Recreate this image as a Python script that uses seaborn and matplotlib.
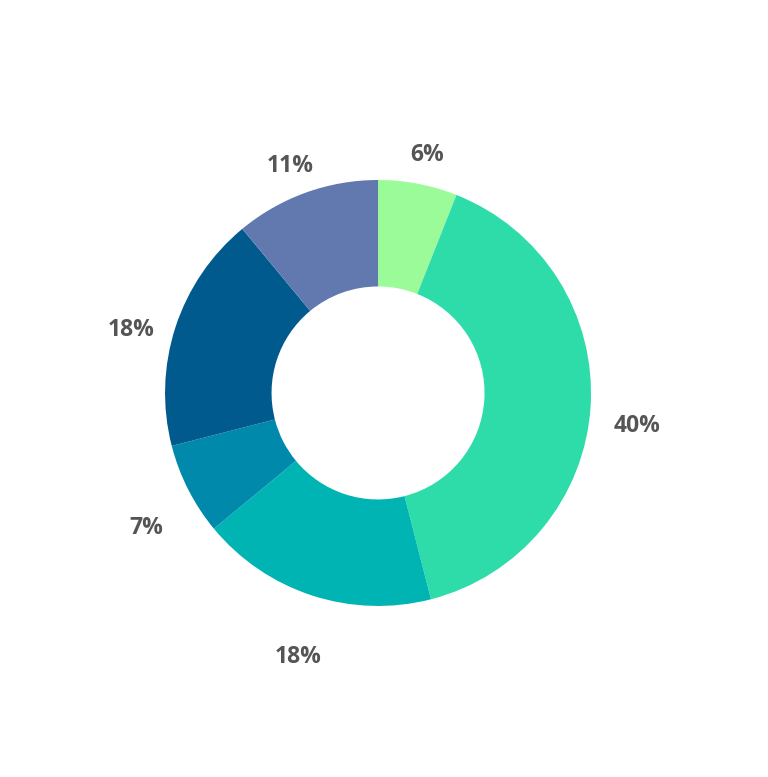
import matplotlib
matplotlib.use("Agg")
import matplotlib.pyplot as plt
import numpy as np
import seaborn as sns

# slice values in percent, clockwise from 12 o'clock
shares = [6, 40, 18, 7, 18, 11]
labels = ['6%', '40%', '18%', '7%', '18%', '11%']
colors = ['#9afb98', '#2edcaa', '#00b4b4', '#0089ab', '#005a8e', '#6279b0']

sns.set_theme(style='white')
plt.rcParams['font.family'] = ['Open Sans', 'DejaVu Sans']

fig = plt.figure(figsize=(7.68, 7.77), dpi=100)
ax = fig.add_axes([0, 0, 1, 1])

ax.pie(shares, colors=colors, startangle=90, counterclock=False,
       wedgeprops=dict(width=0.5, edgecolor='none'), radius=1)

# labels sit on a ring slightly below the donut centre
total = sum(shares)
cum = np.cumsum([0] + shares[:-1])
for lab, start, val in zip(labels, cum, shares):
    mid = (start + val / 2) / total * 2 * np.pi
    x = 1.22 * np.sin(mid)
    y = 1.22 * np.cos(mid) - 0.08
    ax.text(x, y, lab, ha='center', va='center', fontsize=16.5,
            fontweight='bold', color='#555555')

ax.set_aspect('equal')
ax.set_xlim(-1.775, 1.831)
ax.set_ylim(-1.803, 1.845)
ax.axis('off')

plt.savefig('out.png', dpi=100)
